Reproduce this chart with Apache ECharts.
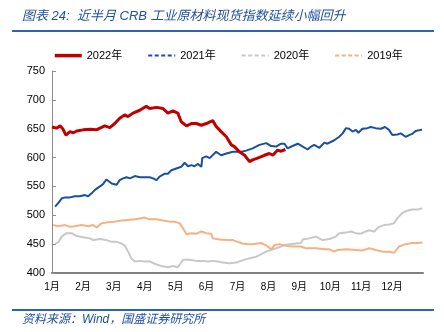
<!DOCTYPE html>
<html>
<head>
<meta charset="utf-8">
<script src="https://cdn.jsdelivr.net/npm/echarts@6/dist/echarts.min.js"></script>
<style>html,body{margin:0;padding:0;background:#fff;}#c{width:444px;height:332px;}</style>
</head>
<body>
<div id="c"></div>
<script>
// ---- data (x = months since Jan 1, y = index value) ----
const monthLabels = ['1月','2月','3月','4月','5月','6月','7月','8月','9月','10月','11月','12月'];
const seriesNames = ['2022年','2021年','2020年','2019年'];

const x2022 = [0,0.15,0.26,0.36,0.45,0.58,0.69,0.80,1.01,1.23,1.44,1.55,1.71,1.87,2.03,2.19,2.35,2.46,2.62,2.84,3.05,3.16,3.38,3.59,3.75,3.91,4.07,4.18,4.35,4.51,4.67,4.83,4.99,5.2,5.31,5.47,5.64,5.8,5.9,6.06,6.23,6.39,6.49,6.65,6.87,7.03,7.14,7.3,7.41,7.55];
const y2022 = [653,651,655,649,639,645,643,646,648,649,648,651,655,652,659,668,674,671,677,682,689,685,687,685,677,681,677,662,655,659,659,656,659,664,654,645,636,622,619,610,604,593,596,599,604,607,604,613,611,614];

const x2021 = [0.1,0.2,0.31,0.42,0.58,0.74,0.9,1.06,1.17,1.28,1.39,1.55,1.65,1.76,1.82,1.93,2.09,2.19,2.3,2.41,2.52,2.68,2.84,3.0,3.16,3.27,3.38,3.48,3.65,3.75,3.86,4.02,4.18,4.29,4.4,4.51,4.61,4.72,4.83,4.86,4.99,5.1,5.31,5.47,5.64,5.85,6.12,6.28,6.49,6.71,6.93,7.09,7.25,7.41,7.52,7.62,7.78,7.95,8.11,8.27,8.38,8.48,8.65,8.81,8.91,8.97,9.13,9.29,9.4,9.51,9.61,9.72,9.83,9.91,10.04,10.2,10.31,10.47,10.64,10.77,10.9,11.01,11.17,11.28,11.44,11.55,11.65,11.76,11.93,11.97];
const y2021 = [515,521,529,531,531,533,533,535,533,538,544,550,554,562,563,555,553,561,564,566,564,568,566,566,566,564,561,567,572,572,578,581,584,591,585,587,585,589,584,599,602,599,610,604,607,610,610,612,616,622,625,620,619,624,624,616,620,624,619,614,619,622,617,626,624,622,630,636,642,651,650,645,648,643,650,651,653,651,650,653,648,639,640,642,636,639,641,646,648,648];

const x2020 = [0.1,0.2,0.31,0.47,0.64,0.8,1.01,1.23,1.33,1.55,1.76,1.93,2.09,2.25,2.35,2.46,2.57,2.68,2.84,3.0,3.16,3.32,3.54,3.75,3.91,4.07,4.24,4.45,4.67,4.88,5.04,5.2,5.36,5.53,5.74,5.96,6.28,6.6,6.93,7.25,7.57,7.89,8.05,8.11,8.32,8.54,8.75,8.97,9.18,9.29,9.51,9.67,9.83,9.99,10.15,10.26,10.42,10.58,10.74,10.9,11.06,11.17,11.33,11.49,11.65,11.82,11.98];
const y2020 = [451,453,463,469,469,464,462,460,457,459,457,454,454,451,448,437,425,420,421,420,420,416,412,410,412,410,423,423,421,421,420,421,420,418,417,418,424,428,437,443,449,451,452,458,460,463,457,459,463,469,470,472,469,468,472,474,472,480,483,484,486,495,504,508,510,510,512];

const x2019 = [0.04,0.2,0.42,0.58,0.74,0.96,1.17,1.33,1.44,1.6,1.82,2.03,2.25,2.46,2.68,2.89,3.0,3.16,3.38,3.59,3.81,3.97,4.13,4.24,4.35,4.51,4.67,4.83,4.99,5.15,5.2,5.42,5.64,5.85,6.01,6.17,6.33,6.49,6.76,6.93,7.09,7.19,7.35,7.57,7.78,8.05,8.21,8.54,8.81,8.97,9.13,9.24,9.51,9.83,10.04,10.26,10.47,10.69,10.9,11.06,11.23,11.44,11.65,11.87,11.98];
const y2019 = [483,481,483,480,481,483,481,483,479,486,488,489,491,492,493,495,496,493,493,491,489,489,486,477,467,469,468,472,469,468,460,458,457,457,454,451,450,450,452,448,441,448,450,447,446,446,443,443,441,441,437,440,441,440,439,443,440,437,437,435,446,450,452,452,453];

const yTicks = {min: 400, max: 750, step: 50};

function zip(xs, ys) { return xs.map((x, i) => [x, ys[i]]); }

const FONT = "'Liberation Sans', 'Noto Sans CJK SC', sans-serif";
const colors = ['#C00000', '#1A4F9E', '#C8C8C8', '#F4B183'];

const chart = echarts.init(document.getElementById('c'), null, {renderer: 'canvas'});
chart.setOption({
  animation: false,
  backgroundColor: '#fff',
  grid: {left: 52, right: 21, top: 71, bottom: 59, containLabel: false},
  legend: {
    left: 48, top: 45, itemWidth: 27, itemHeight: 14, itemGap: 25,
    textStyle: {fontSize: 11, fontFamily: FONT, color: '#000'},
    data: [
      {name: seriesNames[0], lineStyle: {width: 3.5}, itemStyle: {opacity: 0}},
      {name: seriesNames[1], lineStyle: {type: [4, 2.5], width: 2}, itemStyle: {opacity: 0}},
      {name: seriesNames[2], lineStyle: {type: [4, 2.5], width: 2}, itemStyle: {opacity: 0}},
      {name: seriesNames[3], lineStyle: {type: [4, 2.5], width: 2}, itemStyle: {opacity: 0}}
    ]
  },
  xAxis: {
    type: 'value', min: 0, max: 12, interval: 1,
    axisLine: {show: true, onZero: false, lineStyle: {color: '#7F7F7F', width: 2}},
    axisTick: {show: false},
    splitLine: {show: false},
    axisLabel: {fontSize: 10, fontFamily: FONT, color: '#000', margin: 9,
      showMaxLabel: false,
      formatter: v => monthLabels[Math.round(v)] || ''}
  },
  yAxis: {
    type: 'value', min: yTicks.min, max: yTicks.max, interval: yTicks.step,
    axisLine: {show: true, lineStyle: {color: '#8C8C8C', width: 1}},
    axisTick: {show: true, inside: true, length: 4, lineStyle: {color: '#8C8C8C'}},
    splitLine: {show: false},
    axisLabel: {fontSize: 11, fontFamily: FONT, color: '#000', margin: 7}
  },
  series: [
    {name: seriesNames[0], type: 'line', data: zip(x2022, y2022), showSymbol: false, symbol: 'none', z: 5,
     lineStyle: {color: colors[0], width: 3}, itemStyle: {color: colors[0]}},
    {name: seriesNames[1], type: 'line', data: zip(x2021, y2021), showSymbol: false, symbol: 'none', z: 4,
     lineStyle: {color: colors[1], width: 2}, itemStyle: {color: colors[1]}},
    {name: seriesNames[2], type: 'line', data: zip(x2020, y2020), showSymbol: false, symbol: 'none', z: 2,
     lineStyle: {color: colors[2], width: 2}, itemStyle: {color: colors[2]}},
    {name: seriesNames[3], type: 'line', data: zip(x2019, y2019), showSymbol: false, symbol: 'none', z: 3,
     lineStyle: {color: colors[3], width: 2}, itemStyle: {color: colors[3]}}
  ],
  graphic: [
    {type: 'text', left: 22, top: 10,
     style: {text: '图表 24:  近半月 CRB 工业原材料现货指数延续小幅回升', font: "italic 13px " + FONT, fill: '#1F4E9E'}},
    {type: 'line', shape: {x1: 12, y1: 31, x2: 434, y2: 31}, style: {stroke: '#2E63B0', lineWidth: 2}},
    {type: 'line', shape: {x1: 12, y1: 310, x2: 434, y2: 310}, style: {stroke: '#2E63B0', lineWidth: 2}},
    {type: 'text', left: 22, top: 314,
     style: {text: '资料来源：Wind，国盛证券研究所', font: "italic 12px " + FONT, fill: '#1F4E9E'}}
  ]
});
</script>
</body>
</html>
